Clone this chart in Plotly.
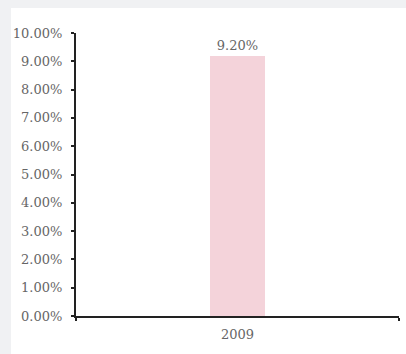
import plotly.graph_objects as go

years = ["2009"]
rates = [0.092]
rate_labels = ["9.20%"]

W, H = 406, 354
ml, mr, mt, mb = 76, 7, 33, 38
pw, ph = W - ml - mr, H - mt - mb
FONT = "DejaVu Serif"
GREY = "#666666"

fig = go.Figure(
    go.Bar(
        x=years,
        y=rates,
        width=0.17,
        marker=dict(color="#f4d3da", line=dict(width=0)),
        text=rate_labels,
        textposition="outside",
        textfont=dict(family=FONT, size=13, color=GREY),
        cliponaxis=False,
    )
)

# white card behind the chart
fig.add_shape(
    type="rect", xref="paper", yref="paper", layer="below",
    x0=(11 - ml) / pw, x1=(W + 5 - ml) / pw,
    y0=-(mb + 5) / ph, y1=(ph + mt - 8) / ph,
    fillcolor="white", line=dict(width=0),
)

fig.update_layout(
    width=W, height=H,
    margin=dict(l=ml, r=mr, t=mt, b=mb),
    paper_bgcolor="#f0f1f3",
    plot_bgcolor="rgba(0,0,0,0)",
    showlegend=False,
    font=dict(family=FONT, size=13, color=GREY),
    bargap=0,
    xaxis=dict(
        type="category", range=[-0.5, 0.5],
        showline=True, linecolor="#222222", linewidth=2,
        showgrid=False, zeroline=False,
        ticks="outside", tickson="boundaries", ticklen=3, tickwidth=2,
        tickcolor="#222222", ticklabelstandoff=5,
        tickfont=dict(family=FONT, size=13, color=GREY),
    ),
    yaxis=dict(
        range=[0, 0.1], dtick=0.01, tickformat=".2%",
        showline=True, linecolor="#222222", linewidth=2,
        ticks="outside", ticklen=3, tickwidth=2, tickcolor="#222222",
        ticklabelstandoff=6,
        showgrid=False, zeroline=False,
        tickfont=dict(family=FONT, size=13, color=GREY),
    ),
)

fig.write_html("out.html")
